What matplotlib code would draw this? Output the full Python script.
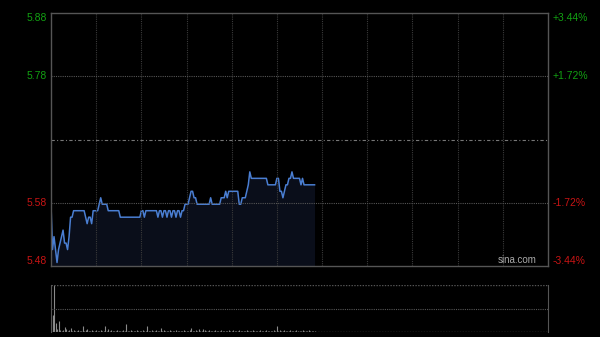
import matplotlib
matplotlib.use("Agg")
import matplotlib.pyplot as plt
import numpy as np

plt.rcParams['font.family'] = ['Liberation Sans', 'DejaVu Sans']

prev_close = 5.68
pct_range = 0.0344

# minute prices, from the open
price = [
    5.58, 5.51, 5.53, 5.51, 5.49, 5.51, 5.52, 5.53, 5.54, 5.52,
    5.52, 5.51, 5.53, 5.56, 5.56, 5.57, 5.57, 5.57, 5.57, 5.57,
    5.57, 5.57, 5.57, 5.56, 5.55, 5.56, 5.56, 5.55, 5.57, 5.57,
    5.57, 5.57, 5.58, 5.59, 5.58, 5.58, 5.58, 5.58, 5.57, 5.57,
    5.57, 5.57, 5.57, 5.57, 5.57, 5.57, 5.56, 5.56, 5.56, 5.56,
    5.56, 5.56, 5.56, 5.56, 5.56, 5.56, 5.56, 5.56, 5.56, 5.56,
    5.57, 5.57, 5.56, 5.57, 5.57, 5.57, 5.57, 5.57, 5.57, 5.57,
    5.57, 5.56, 5.57, 5.57, 5.56, 5.57, 5.57, 5.56, 5.57, 5.57,
    5.56, 5.57, 5.57, 5.56, 5.57, 5.57, 5.56, 5.57, 5.57, 5.58,
    5.58, 5.58, 5.59, 5.60, 5.60, 5.59, 5.59, 5.58, 5.58, 5.58,
    5.58, 5.58, 5.58, 5.58, 5.58, 5.58, 5.59, 5.58, 5.58, 5.58,
    5.58, 5.58, 5.58, 5.59, 5.59, 5.59, 5.60, 5.59, 5.60, 5.60,
    5.60, 5.60, 5.60, 5.60, 5.60, 5.58, 5.58, 5.59, 5.59, 5.59,
    5.60, 5.61, 5.63, 5.62, 5.62, 5.62, 5.62, 5.62, 5.62, 5.62,
    5.62, 5.62, 5.62, 5.62, 5.61, 5.61, 5.61, 5.61, 5.61, 5.61,
    5.62, 5.62, 5.60, 5.60, 5.59, 5.60, 5.61, 5.61, 5.62, 5.62,
    5.63, 5.62, 5.62, 5.62, 5.62, 5.62, 5.61, 5.62, 5.61, 5.61,
    5.61, 5.61, 5.61, 5.61, 5.61, 5.61,
]

volume = [
    16, 17, 47, 9, 3, 11, 2, 1, 2, 5,
    3, 1, 2, 4, 1, 2, 1, 1, 2, 1,
    1, 6, 1, 2, 3, 1, 1, 2, 1, 1,
    2, 1, 1, 2, 1, 1, 6, 1, 3, 1,
    2, 1, 1, 1, 2, 1, 1, 1, 2, 1,
    8, 1, 1, 2, 1, 1, 1, 2, 1, 1,
    1, 2, 1, 1, 6, 1, 1, 2, 1, 1,
    2, 1, 1, 4, 1, 2, 1, 1, 1, 2,
    1, 1, 1, 2, 1, 1, 1, 1, 2, 1,
    1, 1, 2, 4, 1, 1, 2, 1, 3, 1,
    1, 3, 2, 1, 1, 2, 1, 1, 1, 2,
    1, 1, 1, 2, 1, 1, 1, 1, 2, 1,
    1, 2, 1, 1, 1, 2, 1, 1, 1, 1,
    2, 1, 1, 1, 2, 1, 1, 1, 1, 2,
    1, 1, 1, 2, 1, 1, 1, 1, 2, 1,
    6, 1, 2, 1, 1, 2, 1, 1, 1, 2,
    1, 1, 1, 2, 1, 1, 1, 2, 1, 1,
    1, 2, 1, 1, 1, 1,
]

left_labels = ['5.88', '5.78', '5.58', '5.48']
right_labels = ['+3.44%', '+1.72%', '-1.72%', '-3.44%']
label_fracs = [1.0, 0.5, -0.5, -1.0]

total_minutes = 330
grid_step = 30

green = '#12a012'
red = '#c81414'
frame = '#555555'

x = np.arange(len(price))
lo = prev_close * (1 - pct_range)
hi = prev_close * (1 + pct_range)

fig = plt.figure(figsize=(6, 3.37), dpi=100, facecolor='black')
ax = fig.add_axes([51/600, 1 - 266/337, 497/600, 253/337], facecolor='black')
axv = fig.add_axes([51/600, 1 - 332/337, 497/600, 47/337], facecolor='black')

# price panel
ax.fill_between(x, price, lo, color='#0a0e1a', linewidth=0)
ax.plot(x, price, color='#4a7ed2', linewidth=1.1)
ax.set_xlim(0, total_minutes)
ax.set_ylim(lo, hi)

for gx in range(grid_step, total_minutes, grid_step):
    ax.axvline(gx, color='#3a3a3a', linewidth=0.8, linestyle=(0, (1, 1)))
for f in (0.5, -0.5):
    ax.axhline(prev_close * (1 + f * pct_range), color='#555555', linewidth=0.8,
               linestyle=(0, (1, 1)))
ax.axhline(prev_close, color='#777777', linewidth=0.8, linestyle=(0, (3, 2, 1, 2)))

for s in ax.spines.values():
    s.set_color(frame)
    s.set_linewidth(1.0)
ax.set_xticks([])
ax.set_yticks([])

for lab, rlab, f in zip(left_labels, right_labels, label_fracs):
    yv = prev_close * (1 + f * pct_range)
    col = green if f > 0 else red
    va = 'center'
    if f == 1.0:
        va = 'top'
    elif f == -1.0:
        va = 'bottom'
    ax.text(-0.008, yv, lab, transform=ax.get_yaxis_transform(), ha='right', va=va,
            color=col, fontsize=7.5)
    ax.text(1.01, yv, rlab, transform=ax.get_yaxis_transform(), ha='left', va=va,
            color=col, fontsize=7.5)

ax.text(0.978, 0.005, 'sina.com', transform=ax.transAxes, ha='right', va='bottom',
        color='#aaaaaa', fontsize=7)

# volume panel
axv.vlines(x, 0, volume, color='#8a8a8a', linewidth=0.8)
axv.set_xlim(0, total_minutes)
axv.set_ylim(0, max(volume))
axv.axhline(max(volume) / 2, color='#555555', linewidth=0.8, linestyle=(0, (1, 1)))
axv.axhline(max(volume), color='#555555', linewidth=1.0, linestyle=(0, (1, 1)))
axv.axhline(0, color='#555555', linewidth=1.0, linestyle=(0, (1, 1)))
axv.spines['top'].set_visible(False)
axv.spines['bottom'].set_visible(False)
for side in ('left', 'right'):
    axv.spines[side].set_color(frame)
axv.set_xticks([])
axv.set_yticks([])

fig.savefig('out.png', dpi=100, facecolor='black')
